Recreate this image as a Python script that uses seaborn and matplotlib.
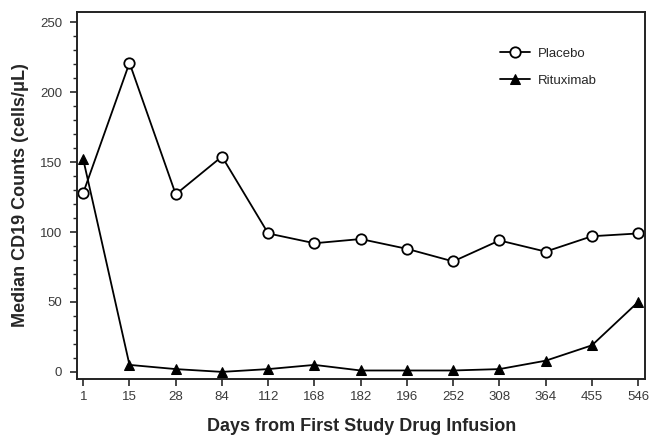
import pandas as pd
import matplotlib.pyplot as plt
import seaborn as sns
from matplotlib.ticker import MultipleLocator

days = ['1', '15', '28', '84', '112', '168', '182', '196', '252', '308', '364', '455', '546']
placebo = [128, 221, 127, 154, 99, 92, 95, 88, 79, 94, 86, 97, 99]
rituximab = [152, 5, 2, 0, 2, 5, 1, 1, 1, 2, 8, 19, 50]

df = pd.DataFrame({
    'day': days * 2,
    'count': placebo + rituximab,
    'group': ['Placebo'] * len(days) + ['Rituximab'] * len(days),
})

sns.set_style('ticks')
plt.rcParams['font.family'] = ['Liberation Sans', 'DejaVu Sans']

fig, ax = plt.subplots(figsize=(6.49, 4.37), dpi=100)
fig.subplots_adjust(left=0.119, right=0.994, top=0.973, bottom=0.133)

# линии с маркерами для двух групп
sns.lineplot(data=df, x='day', y='count', hue='group', style='group',
             markers={'Placebo': 'o', 'Rituximab': '^'}, dashes=False,
             palette={'Placebo': 'black', 'Rituximab': 'black'},
             linewidth=1.3, markersize=7.5, ax=ax, sort=False)

# белая заливка кружков плацебо
for line in ax.lines:
    if line.get_marker() == 'o':
        line.set_markerfacecolor('white')
        line.set_markeredgecolor('black')
        line.set_markeredgewidth(1.3)
    elif line.get_marker() == '^':
        line.set_markerfacecolor('black')
        line.set_markeredgecolor('black')

ax.set_xlim(-0.13, 12.15)
ax.set_ylim(-5, 257.5)
ax.yaxis.set_major_locator(MultipleLocator(50))
ax.yaxis.set_minor_locator(MultipleLocator(10))
ax.tick_params(axis='both', which='major', length=5, width=1.2, labelsize=9.5, labelcolor='#3a3a3a')
ax.tick_params(axis='y', which='major', pad=6)
ax.tick_params(axis='y', which='minor', length=3, width=1)
for s in ax.spines.values():
    s.set_linewidth(1.4)
    s.set_color('#222222')

ax.set_xlabel('Days from First Study Drug Infusion', fontsize=13, fontweight='bold', labelpad=11)
ax.set_ylabel('Median CD19 Counts (cells/μL)', fontsize=13, fontweight='bold', labelpad=8)

leg = ax.legend(loc='upper right', bbox_to_anchor=(0.935, 0.935), frameon=False, fontsize=9.5,
                handlelength=2.2, labelspacing=1.1, handletextpad=0.6)
for h in leg.legend_handles:
    if h.get_marker() == 'o':
        h.set_markerfacecolor('white')
        h.set_markeredgecolor('black')
    else:
        h.set_markerfacecolor('black')

fig.savefig('out.png', dpi=100)
